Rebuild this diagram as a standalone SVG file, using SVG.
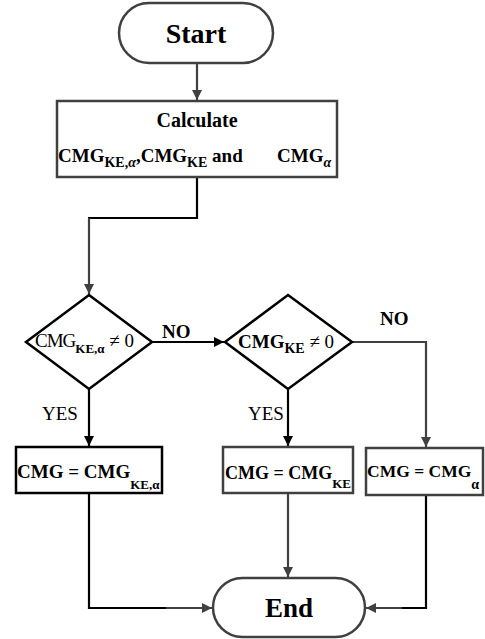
<svg xmlns="http://www.w3.org/2000/svg" width="485" height="639" viewBox="0 0 485 639">
<defs>
<style>
text{font-family:'Liberation Serif','Times New Roman',serif;fill:#000}
.b{font-weight:bold}
.g{fill:#fff;stroke:#404040;stroke-width:2.5}
.k{fill:#fff;stroke:#000;stroke-width:2.5}
.ln{fill:none;stroke:#404040;stroke-width:2.2}
.lk{fill:none;stroke:#000;stroke-width:2.2}
</style>
<marker id="ah" viewBox="0 0 10 10" refX="10" refY="5" markerWidth="10" markerHeight="10" markerUnits="userSpaceOnUse" orient="auto">
<path d="M0,0 L10,5 L0,10 Z" fill="#404040"/>
</marker>
<marker id="ak" viewBox="0 0 10 10" refX="10" refY="5" markerWidth="10" markerHeight="10" markerUnits="userSpaceOnUse" orient="auto">
<path d="M0,0 L10,5 L0,10 Z" fill="#000"/>
</marker>
</defs>
<rect width="485" height="639" fill="#fff"/>
<g id="connectors">
<line class="ln" x1="197" y1="63" x2="197" y2="100" marker-end="url(#ah)"/>
<polyline class="lk" points="197,177 197,218 88,218"/>
<line class="ln" x1="89" y1="218" x2="89" y2="294" marker-end="url(#ah)"/>
<line class="lk" x1="152" y1="342" x2="224" y2="342" marker-end="url(#ak)"/>
<polyline class="ln" points="352,342 426,342 426,447" marker-end="url(#ah)"/>
<line class="lk" x1="89" y1="389" x2="89" y2="446" marker-end="url(#ak)"/>
<line class="lk" x1="288" y1="389" x2="288" y2="446" marker-end="url(#ak)"/>
<polyline class="lk" points="89,493 89,608 168,608"/>
<line class="ln" x1="166" y1="608" x2="212" y2="608" marker-end="url(#ah)"/>
<line class="ln" x1="288" y1="493" x2="288" y2="577" marker-end="url(#ah)"/>
<polyline class="lk" points="426,495 426,608 400,608"/>
<line class="ln" x1="402" y1="608" x2="366" y2="608" marker-end="url(#ah)"/>
</g>
<g id="start">
<rect class="g" x="119" y="3" width="154" height="60" rx="30" ry="30"/>
<text class="b" x="196" y="43" font-size="28" text-anchor="middle">Start</text>
</g>
<g id="calculate">
<rect class="g" x="57" y="101" width="280" height="76"/>
<text class="b" x="197" y="127" font-size="20" text-anchor="middle">Calculate</text>
<text class="b" x="58" y="162" font-size="19">CMG<tspan dy="5" font-size="14">KE,<tspan font-style="italic">α</tspan></tspan><tspan dy="-5">,CMG</tspan><tspan dy="5" font-size="14">KE</tspan><tspan dy="-5"> and</tspan><tspan x="277">CMG</tspan><tspan dy="5" font-size="14" font-style="italic">α</tspan></text>
</g>
<g id="decision1">
<polygon class="k" points="89,295 152,342 89,389 26,342"/>
<text x="35" y="347" font-size="19"><tspan letter-spacing="-1">CMG</tspan><tspan dy="6" font-size="13" font-weight="bold">KE,α</tspan><tspan dy="-6"> ≠ 0</tspan></text>
</g>
<text class="b" x="162" y="338" font-size="19">NO</text>
<g id="decision2">
<polygon class="k" points="288,295 352,342 288,389 225,342"/>
<text x="238" y="348" font-size="19"><tspan font-weight="bold">CMG</tspan><tspan dy="5" font-size="14" font-weight="bold">KE</tspan><tspan dy="-5"> ≠ 0</tspan></text>
</g>
<text class="b" x="380" y="325" font-size="19">NO</text>
<text x="42" y="420" font-size="19">YES</text>
<text x="248" y="420" font-size="19">YES</text>
<g id="box1">
<rect class="k" x="16" y="447" width="146" height="46"/>
<text class="b" x="17" y="478" font-size="19">CMG = CMG<tspan dy="11" font-size="13">KE,α</tspan></text>
</g>
<g id="box2">
<rect class="g" x="223" y="447" width="130" height="46"/>
<text class="b" x="225" y="479" font-size="18">CMG = CMG<tspan dy="9" font-size="13">KE</tspan></text>
</g>
<g id="box3">
<rect class="g" x="366" y="448" width="117" height="47"/>
<text class="b" x="367" y="477" font-size="17.5">CMG = CMG<tspan dy="12" font-size="14">α</tspan></text>
</g>
<g id="end">
<rect class="g" x="213" y="578" width="152" height="59" rx="29.5" ry="29.5"/>
<text class="b" x="289" y="617" font-size="27" text-anchor="middle">End</text>
</g>
</svg>
